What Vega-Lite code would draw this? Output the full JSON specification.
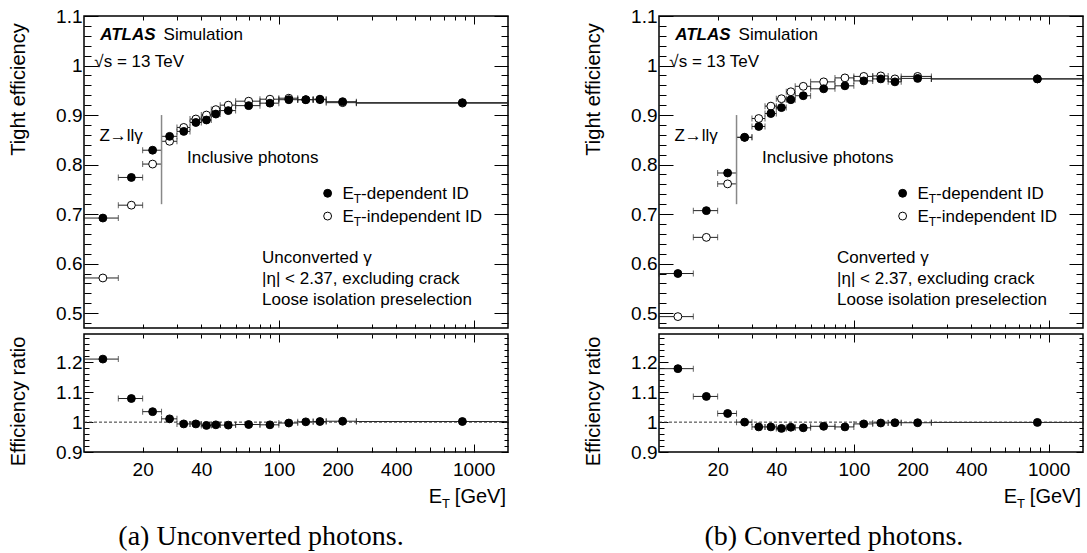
{
  "$schema": "https://vega.github.io/schema/vega-lite/v6.json",
  "padding": {"left": 7, "top": 6, "right": 0, "bottom": 0},
  "background": "white",
  "config": {
    "font": "Liberation Sans",
    "view": {"stroke": "black", "strokeWidth": 1.5},
    "axis": {"grid": false, "domain": false, "labelFont": "Liberation Sans", "labelFontSize": 19, "labelColor": "black", "tickColor": "black", "tickWidth": 1, "titleFont": "Liberation Sans", "titleFontSize": 20, "titleFontWeight": "normal", "titleColor": "black", "labelOverlap": false, "labelFlush": false, "labelBound": false}
  },
  "datasets": {
    "one": [{}],
    "unc": [
      {"x": 12.5, "lo": 10, "hi": 15, "dep": 0.692, "ind": 0.571, "ratio": 1.211},
      {"x": 17.5, "lo": 15, "hi": 20, "dep": 0.774, "ind": 0.718, "ratio": 1.079},
      {"x": 22.5, "lo": 20, "hi": 25, "dep": 0.829, "ind": 0.801, "ratio": 1.035},
      {"x": 27.5, "lo": 25, "hi": 30, "dep": 0.857, "ind": 0.847, "ratio": 1.011},
      {"x": 32.5, "lo": 30, "hi": 35, "dep": 0.867, "ind": 0.875, "ratio": 0.994},
      {"x": 37.5, "lo": 35, "hi": 40, "dep": 0.885, "ind": 0.892, "ratio": 0.994},
      {"x": 42.5, "lo": 40, "hi": 45, "dep": 0.890, "ind": 0.900, "ratio": 0.989},
      {"x": 47.5, "lo": 45, "hi": 50, "dep": 0.902, "ind": 0.911, "ratio": 0.991},
      {"x": 55, "lo": 50, "hi": 60, "dep": 0.909, "ind": 0.920, "ratio": 0.990},
      {"x": 70, "lo": 60, "hi": 80, "dep": 0.919, "ind": 0.928, "ratio": 0.992},
      {"x": 90, "lo": 80, "hi": 100, "dep": 0.924, "ind": 0.932, "ratio": 0.991},
      {"x": 112.5, "lo": 100, "hi": 125, "dep": 0.931, "ind": 0.934, "ratio": 0.997},
      {"x": 137.5, "lo": 125, "hi": 150, "dep": 0.931, "ind": 0.931, "ratio": 1.001},
      {"x": 162.5, "lo": 150, "hi": 175, "dep": 0.932, "ind": 0.931, "ratio": 1.002},
      {"x": 212.5, "lo": 175, "hi": 250, "dep": 0.927, "ind": 0.925, "ratio": 1.003},
      {"x": 875, "lo": 250, "hi": 1500, "dep": 0.925, "ind": 0.924, "ratio": 1.002}
    ],
    "conv": [
      {"x": 12.5, "lo": 10, "hi": 15, "dep": 0.580, "ind": 0.493, "ratio": 1.179},
      {"x": 17.5, "lo": 15, "hi": 20, "dep": 0.707, "ind": 0.653, "ratio": 1.086},
      {"x": 22.5, "lo": 20, "hi": 25, "dep": 0.783, "ind": 0.761, "ratio": 1.029},
      {"x": 27.5, "lo": 25, "hi": 30, "dep": 0.855, "ind": 0.855, "ratio": 1.000},
      {"x": 32.5, "lo": 30, "hi": 35, "dep": 0.877, "ind": 0.893, "ratio": 0.984},
      {"x": 37.5, "lo": 35, "hi": 40, "dep": 0.903, "ind": 0.918, "ratio": 0.984},
      {"x": 42.5, "lo": 40, "hi": 45, "dep": 0.915, "ind": 0.933, "ratio": 0.979},
      {"x": 47.5, "lo": 45, "hi": 50, "dep": 0.931, "ind": 0.947, "ratio": 0.983},
      {"x": 55, "lo": 50, "hi": 60, "dep": 0.939, "ind": 0.958, "ratio": 0.981},
      {"x": 70, "lo": 60, "hi": 80, "dep": 0.953, "ind": 0.967, "ratio": 0.986},
      {"x": 90, "lo": 80, "hi": 100, "dep": 0.959, "ind": 0.975, "ratio": 0.984},
      {"x": 112.5, "lo": 100, "hi": 125, "dep": 0.969, "ind": 0.978, "ratio": 0.994},
      {"x": 137.5, "lo": 125, "hi": 150, "dep": 0.973, "ind": 0.979, "ratio": 0.997},
      {"x": 162.5, "lo": 150, "hi": 175, "dep": 0.967, "ind": 0.973, "ratio": 0.998},
      {"x": 212.5, "lo": 175, "hi": 250, "dep": 0.974, "ind": 0.978, "ratio": 0.998},
      {"x": 875, "lo": 250, "hi": 1500, "dep": 0.973, "ind": 0.973, "ratio": 0.999}
    ]
  },
  "spacing": 72,
  "hconcat": [
    {
      "spacing": 6,
      "bounds": "flush",
      "vconcat": [
        {
          "width": 424, "height": 312,
          "data": {"name": "unc"},
          "resolve": {"axis": {"x": "independent", "y": "independent"}},
          "layer": [
            {"transform": [{"fold": ["ind", "dep"], "as": ["series", "eff"]}],
             "mark": {"type": "rule", "stroke": "#222", "strokeWidth": 1},
             "encoding": {
               "x": {"field": "lo", "type": "quantitative", "scale": {"type": "log", "domain": [10, 1500], "nice": false},
                     "axis": {"orient": "bottom", "title": null, "labels": false, "values": [20,30,40,50,60,70,80,90,100,200,300,400,500,600,700,800,900,1000], "tickSize": {"condition": {"test": "datum.value == 100 || datum.value == 1000", "value": -8}, "value": -4}}},
               "x2": {"field": "hi"},
               "y": {"field": "eff", "type": "quantitative", "scale": {"domain": [0.47, 1.1], "nice": false, "zero": false},
                     "axis": {"orient": "left", "title": "Tight efficiency", "titleX": -65.5, "titleY": 73, "titleAlign": "center", "titleBaseline": "middle", "titleAngle": -90,
                              "values": [0.48,0.5,0.52,0.54,0.56,0.58,0.6,0.62,0.64,0.66,0.68,0.7,0.72,0.74,0.76,0.78,0.8,0.82,0.84,0.86,0.88,0.9,0.92,0.94,0.96,0.98,1,1.02,1.04,1.06,1.08,1.1],
                              "labelExpr": "indexof([0.5,0.6,0.7,0.8,0.9,1,1.1], datum.value) >= 0 ? '' + datum.value : ''",
                              "labelPadding": 16,
                              "tickSize": {"condition": {"test": "indexof([0.5,0.6,0.7,0.8,0.9,1,1.1], datum.value) >= 0", "value": -14}, "value": -7}}}
             }},
            {"transform": [{"fold": ["ind", "dep"], "as": ["series", "eff"]}, {"fold": ["lo", "hi"], "as": ["edge", "ex"]}],
             "mark": {"type": "tick", "orient": "vertical", "size": 6, "thickness": 1, "color": "#222"},
             "encoding": {
               "x": {"field": "ex", "type": "quantitative", "scale": {"type": "log"},
                     "axis": {"orient": "top", "title": null, "labels": false, "values": [20,30,40,50,60,70,80,90,100,200,300,400,500,600,700,800,900,1000], "tickSize": {"condition": {"test": "datum.value == 100 || datum.value == 1000", "value": -8}, "value": -4}}},
               "y": {"field": "eff", "type": "quantitative",
                     "axis": {"orient": "right", "title": null, "labels": false,
                              "values": [0.48,0.5,0.52,0.54,0.56,0.58,0.6,0.62,0.64,0.66,0.68,0.7,0.72,0.74,0.76,0.78,0.8,0.82,0.84,0.86,0.88,0.9,0.92,0.94,0.96,0.98,1,1.02,1.04,1.06,1.08,1.1],
                              "tickSize": {"condition": {"test": "indexof([0.5,0.6,0.7,0.8,0.9,1,1.1], datum.value) >= 0", "value": -14}, "value": -7}}}
             }},
            {"transform": [{"fold": ["ind", "dep"], "as": ["series", "eff"]}],
             "mark": {"type": "point", "shape": "circle", "filled": true, "size": 62, "stroke": "black", "strokeWidth": 1, "opacity": 1},
             "encoding": {
               "x": {"field": "x", "type": "quantitative", "scale": {"type": "log"}, "axis": null},
               "y": {"field": "eff", "type": "quantitative", "axis": null},
               "fill": {"condition": {"test": "datum.series == 'dep'", "value": "black"}, "value": "white"}
             }},
            {"data": {"name": "one"}, "mark": {"type": "rule", "stroke": "#888", "strokeWidth": 1.5},
             "encoding": {"x": {"datum": 25, "type": "quantitative", "scale": {"type": "log"}, "axis": null}, "y": {"datum": 0.72, "type": "quantitative", "axis": null}, "y2": {"datum": 0.9}}},
            {"data": {"name": "one"}, "mark": {"type": "text", "text": "ATLAS", "align": "left", "baseline": "alphabetic", "fontSize": 17, "fontStyle": "italic", "fontWeight": "bold"},
             "encoding": {"x": {"datum": 12.1, "type": "quantitative", "scale": {"type": "log"}, "axis": null}, "y": {"datum": 1.051, "type": "quantitative", "axis": null}}},
            {"data": {"name": "one"}, "mark": {"type": "text", "text": "Simulation", "align": "left", "baseline": "alphabetic", "fontSize": 17},
             "encoding": {"x": {"datum": 25.6, "type": "quantitative", "scale": {"type": "log"}, "axis": null}, "y": {"datum": 1.051, "type": "quantitative", "axis": null}}},
            {"data": {"name": "one"}, "mark": {"type": "text", "text": "√s = 13 TeV", "align": "left", "baseline": "alphabetic", "fontSize": 17},
             "encoding": {"x": {"datum": 11.3, "type": "quantitative", "scale": {"type": "log"}, "axis": null}, "y": {"datum": 0.997, "type": "quantitative", "axis": null}}},
            {"data": {"name": "one"}, "mark": {"type": "text", "text": "Z→llγ", "align": "left", "baseline": "alphabetic", "fontSize": 17},
             "encoding": {"x": {"datum": 12.0, "type": "quantitative", "scale": {"type": "log"}, "axis": null}, "y": {"datum": 0.848, "type": "quantitative", "axis": null}}},
            {"data": {"name": "one"}, "mark": {"type": "text", "text": "Inclusive photons", "align": "left", "baseline": "alphabetic", "fontSize": 17},
             "encoding": {"x": {"datum": 33.8, "type": "quantitative", "scale": {"type": "log"}, "axis": null}, "y": {"datum": 0.803, "type": "quantitative", "axis": null}}},
            {"data": {"name": "one"}, "mark": {"type": "point", "shape": "circle", "filled": true, "size": 62, "fill": "black", "stroke": "black", "strokeWidth": 1, "opacity": 1},
             "encoding": {"x": {"datum": 178, "type": "quantitative", "scale": {"type": "log"}, "axis": null}, "y": {"datum": 0.742, "type": "quantitative", "axis": null}}},
            {"data": {"name": "one"}, "mark": {"type": "point", "shape": "circle", "filled": true, "size": 62, "fill": "white", "stroke": "black", "strokeWidth": 1, "opacity": 1},
             "encoding": {"x": {"datum": 178, "type": "quantitative", "scale": {"type": "log"}, "axis": null}, "y": {"datum": 0.696, "type": "quantitative", "axis": null}}},
            {"data": {"name": "one"}, "mark": {"type": "text", "text": "E", "align": "left", "baseline": "alphabetic", "fontSize": 17},
             "encoding": {"x": {"datum": 212, "type": "quantitative", "scale": {"type": "log"}, "axis": null}, "y": {"datum": 0.730, "type": "quantitative", "axis": null}}},
            {"data": {"name": "one"}, "mark": {"type": "text", "text": "T", "align": "left", "baseline": "alphabetic", "fontSize": 12, "dx": 11.3, "dy": 4},
             "encoding": {"x": {"datum": 212, "type": "quantitative", "scale": {"type": "log"}, "axis": null}, "y": {"datum": 0.730, "type": "quantitative", "axis": null}}},
            {"data": {"name": "one"}, "mark": {"type": "text", "text": "-dependent ID", "align": "left", "baseline": "alphabetic", "fontSize": 17, "dx": 18.6},
             "encoding": {"x": {"datum": 212, "type": "quantitative", "scale": {"type": "log"}, "axis": null}, "y": {"datum": 0.730, "type": "quantitative", "axis": null}}},
            {"data": {"name": "one"}, "mark": {"type": "text", "text": "E", "align": "left", "baseline": "alphabetic", "fontSize": 17},
             "encoding": {"x": {"datum": 212, "type": "quantitative", "scale": {"type": "log"}, "axis": null}, "y": {"datum": 0.684, "type": "quantitative", "axis": null}}},
            {"data": {"name": "one"}, "mark": {"type": "text", "text": "T", "align": "left", "baseline": "alphabetic", "fontSize": 12, "dx": 11.3, "dy": 4},
             "encoding": {"x": {"datum": 212, "type": "quantitative", "scale": {"type": "log"}, "axis": null}, "y": {"datum": 0.684, "type": "quantitative", "axis": null}}},
            {"data": {"name": "one"}, "mark": {"type": "text", "text": "-independent ID", "align": "left", "baseline": "alphabetic", "fontSize": 17, "dx": 18.6},
             "encoding": {"x": {"datum": 212, "type": "quantitative", "scale": {"type": "log"}, "axis": null}, "y": {"datum": 0.684, "type": "quantitative", "axis": null}}},
            {"data": {"name": "one"}, "mark": {"type": "text", "text": "Unconverted γ", "align": "left", "baseline": "alphabetic", "fontSize": 17},
             "encoding": {"x": {"datum": 82, "type": "quantitative", "scale": {"type": "log"}, "axis": null}, "y": {"datum": 0.602, "type": "quantitative", "axis": null}}},
            {"data": {"name": "one"}, "mark": {"type": "text", "text": "|η| < 2.37, excluding crack", "align": "left", "baseline": "alphabetic", "fontSize": 17},
             "encoding": {"x": {"datum": 82, "type": "quantitative", "scale": {"type": "log"}, "axis": null}, "y": {"datum": 0.558, "type": "quantitative", "axis": null}}},
            {"data": {"name": "one"}, "mark": {"type": "text", "text": "Loose isolation preselection", "align": "left", "baseline": "alphabetic", "fontSize": 17},
             "encoding": {"x": {"datum": 82, "type": "quantitative", "scale": {"type": "log"}, "axis": null}, "y": {"datum": 0.516, "type": "quantitative", "axis": null}}}
          ]
        },
        {
          "width": 424, "height": 118,
          "data": {"name": "unc"},
          "resolve": {"axis": {"x": "independent", "y": "independent"}},
          "layer": [
            {"mark": {"type": "rule", "stroke": "#222", "strokeWidth": 1},
             "encoding": {
               "x": {"field": "lo", "type": "quantitative", "scale": {"type": "log", "domain": [10, 1500], "nice": false},
                     "axis": {"orient": "bottom", "title": null, "values": [20,30,40,50,60,70,80,90,100,200,300,400,500,600,700,800,900,1000],
                              "labelExpr": "indexof([20,40,100,200,400,1000], datum.value) >= 0 ? '' + datum.value : ''",
                              "tickSize": {"condition": {"test": "datum.value == 100 || datum.value == 1000", "value": -8}, "value": -5},
                              "labelPadding": {"condition": {"test": "datum.value == 100 || datum.value == 1000", "value": 16}, "value": 13}}},
               "x2": {"field": "hi"},
               "y": {"field": "ratio", "type": "quantitative", "scale": {"domain": [0.9, 1.295], "nice": false, "zero": false},
                     "axis": {"orient": "left", "title": "Efficiency ratio", "titleX": -65.5, "titleY": 67, "titleAlign": "center", "titleBaseline": "middle", "titleAngle": -90,
                              "values": [0.9,0.92,0.94,0.96,0.98,1,1.02,1.04,1.06,1.08,1.1,1.12,1.14,1.16,1.18,1.2,1.22,1.24,1.26,1.28],
                              "labelExpr": "indexof([0.9,1,1.1,1.2], datum.value) >= 0 ? '' + datum.value : ''",
                              "labelPadding": 11,
                              "tickSize": {"condition": {"test": "indexof([0.9,1,1.1,1.2], datum.value) >= 0", "value": -9}, "value": -5}}}
             }},
            {"transform": [{"fold": ["lo", "hi"], "as": ["edge", "ex"]}],
             "mark": {"type": "tick", "orient": "vertical", "size": 6, "thickness": 1, "color": "#222"},
             "encoding": {
               "x": {"field": "ex", "type": "quantitative", "scale": {"type": "log"},
                     "axis": {"orient": "top", "title": null, "labels": false, "values": [20,30,40,50,60,70,80,90,100,200,300,400,500,600,700,800,900,1000], "tickSize": {"condition": {"test": "datum.value == 100 || datum.value == 1000", "value": -8}, "value": -4}}},
               "y": {"field": "ratio", "type": "quantitative",
                     "axis": {"orient": "right", "title": null, "labels": false,
                              "values": [0.9,0.92,0.94,0.96,0.98,1,1.02,1.04,1.06,1.08,1.1,1.12,1.14,1.16,1.18,1.2,1.22,1.24,1.26,1.28],
                              "tickSize": {"condition": {"test": "indexof([0.9,1,1.1,1.2], datum.value) >= 0", "value": -7}, "value": -4}}}
             }},
            {"data": {"name": "one"}, "mark": {"type": "rule", "stroke": "#333", "strokeWidth": 1, "strokeDash": [3, 2]},
             "encoding": {"x": {"datum": 10, "type": "quantitative", "scale": {"type": "log"}, "axis": null}, "x2": {"datum": 1500}, "y": {"datum": 1, "type": "quantitative", "axis": null}}},
            {"mark": {"type": "point", "shape": "circle", "filled": true, "size": 62, "fill": "black", "stroke": "black", "strokeWidth": 1, "opacity": 1},
             "encoding": {
               "x": {"field": "x", "type": "quantitative", "scale": {"type": "log"}, "axis": null},
               "y": {"field": "ratio", "type": "quantitative", "axis": null}
             }},
            {"data": {"name": "one"}, "mark": {"type": "text", "text": "E", "align": "right", "baseline": "alphabetic", "fontSize": 20, "dx": -66, "dy": 51},
             "encoding": {"x": {"datum": 1500, "type": "quantitative", "scale": {"type": "log"}, "axis": null}, "y": {"datum": 0.9, "type": "quantitative", "axis": null}}},
            {"data": {"name": "one"}, "mark": {"type": "text", "text": "T", "align": "right", "baseline": "alphabetic", "fontSize": 13, "dx": -58, "dy": 56},
             "encoding": {"x": {"datum": 1500, "type": "quantitative", "scale": {"type": "log"}, "axis": null}, "y": {"datum": 0.9, "type": "quantitative", "axis": null}}},
            {"data": {"name": "one"}, "mark": {"type": "text", "text": "[GeV]", "align": "right", "baseline": "alphabetic", "fontSize": 20, "dx": -2, "dy": 51},
             "encoding": {"x": {"datum": 1500, "type": "quantitative", "scale": {"type": "log"}, "axis": null}, "y": {"datum": 0.9, "type": "quantitative", "axis": null}}},
            {"data": {"name": "one"}, "mark": {"type": "text", "text": "(a) Unconverted photons.", "align": "center", "baseline": "alphabetic", "fontSize": 28, "font": "Liberation Serif", "dy": 93},
             "encoding": {"x": {"datum": 81, "type": "quantitative", "scale": {"type": "log"}, "axis": null}, "y": {"datum": 0.9, "type": "quantitative", "axis": null}}}
          ]
        }
      ]
    },
    {
      "spacing": 6,
      "bounds": "flush",
      "vconcat": [
        {
          "width": 424, "height": 312,
          "data": {"name": "conv"},
          "resolve": {"axis": {"x": "independent", "y": "independent"}},
          "layer": [
            {"transform": [{"fold": ["ind", "dep"], "as": ["series", "eff"]}],
             "mark": {"type": "rule", "stroke": "#222", "strokeWidth": 1},
             "encoding": {
               "x": {"field": "lo", "type": "quantitative", "scale": {"type": "log", "domain": [10, 1500], "nice": false},
                     "axis": {"orient": "bottom", "title": null, "labels": false, "values": [20,30,40,50,60,70,80,90,100,200,300,400,500,600,700,800,900,1000], "tickSize": {"condition": {"test": "datum.value == 100 || datum.value == 1000", "value": -8}, "value": -4}}},
               "x2": {"field": "hi"},
               "y": {"field": "eff", "type": "quantitative", "scale": {"domain": [0.47, 1.1], "nice": false, "zero": false},
                     "axis": {"orient": "left", "title": "Tight efficiency", "titleX": -65.5, "titleY": 73, "titleAlign": "center", "titleBaseline": "middle", "titleAngle": -90,
                              "values": [0.48,0.5,0.52,0.54,0.56,0.58,0.6,0.62,0.64,0.66,0.68,0.7,0.72,0.74,0.76,0.78,0.8,0.82,0.84,0.86,0.88,0.9,0.92,0.94,0.96,0.98,1,1.02,1.04,1.06,1.08,1.1],
                              "labelExpr": "indexof([0.5,0.6,0.7,0.8,0.9,1,1.1], datum.value) >= 0 ? '' + datum.value : ''",
                              "labelPadding": 16,
                              "tickSize": {"condition": {"test": "indexof([0.5,0.6,0.7,0.8,0.9,1,1.1], datum.value) >= 0", "value": -14}, "value": -7}}}
             }},
            {"transform": [{"fold": ["ind", "dep"], "as": ["series", "eff"]}, {"fold": ["lo", "hi"], "as": ["edge", "ex"]}],
             "mark": {"type": "tick", "orient": "vertical", "size": 6, "thickness": 1, "color": "#222"},
             "encoding": {
               "x": {"field": "ex", "type": "quantitative", "scale": {"type": "log"},
                     "axis": {"orient": "top", "title": null, "labels": false, "values": [20,30,40,50,60,70,80,90,100,200,300,400,500,600,700,800,900,1000], "tickSize": {"condition": {"test": "datum.value == 100 || datum.value == 1000", "value": -8}, "value": -4}}},
               "y": {"field": "eff", "type": "quantitative",
                     "axis": {"orient": "right", "title": null, "labels": false,
                              "values": [0.48,0.5,0.52,0.54,0.56,0.58,0.6,0.62,0.64,0.66,0.68,0.7,0.72,0.74,0.76,0.78,0.8,0.82,0.84,0.86,0.88,0.9,0.92,0.94,0.96,0.98,1,1.02,1.04,1.06,1.08,1.1],
                              "tickSize": {"condition": {"test": "indexof([0.5,0.6,0.7,0.8,0.9,1,1.1], datum.value) >= 0", "value": -14}, "value": -7}}}
             }},
            {"transform": [{"fold": ["ind", "dep"], "as": ["series", "eff"]}],
             "mark": {"type": "point", "shape": "circle", "filled": true, "size": 62, "stroke": "black", "strokeWidth": 1, "opacity": 1},
             "encoding": {
               "x": {"field": "x", "type": "quantitative", "scale": {"type": "log"}, "axis": null},
               "y": {"field": "eff", "type": "quantitative", "axis": null},
               "fill": {"condition": {"test": "datum.series == 'dep'", "value": "black"}, "value": "white"}
             }},
            {"data": {"name": "one"}, "mark": {"type": "rule", "stroke": "#888", "strokeWidth": 1.5},
             "encoding": {"x": {"datum": 25, "type": "quantitative", "scale": {"type": "log"}, "axis": null}, "y": {"datum": 0.72, "type": "quantitative", "axis": null}, "y2": {"datum": 0.9}}},
            {"data": {"name": "one"}, "mark": {"type": "text", "text": "ATLAS", "align": "left", "baseline": "alphabetic", "fontSize": 17, "fontStyle": "italic", "fontWeight": "bold"},
             "encoding": {"x": {"datum": 12.1, "type": "quantitative", "scale": {"type": "log"}, "axis": null}, "y": {"datum": 1.051, "type": "quantitative", "axis": null}}},
            {"data": {"name": "one"}, "mark": {"type": "text", "text": "Simulation", "align": "left", "baseline": "alphabetic", "fontSize": 17},
             "encoding": {"x": {"datum": 25.6, "type": "quantitative", "scale": {"type": "log"}, "axis": null}, "y": {"datum": 1.051, "type": "quantitative", "axis": null}}},
            {"data": {"name": "one"}, "mark": {"type": "text", "text": "√s = 13 TeV", "align": "left", "baseline": "alphabetic", "fontSize": 17},
             "encoding": {"x": {"datum": 11.3, "type": "quantitative", "scale": {"type": "log"}, "axis": null}, "y": {"datum": 0.997, "type": "quantitative", "axis": null}}},
            {"data": {"name": "one"}, "mark": {"type": "text", "text": "Z→llγ", "align": "left", "baseline": "alphabetic", "fontSize": 17},
             "encoding": {"x": {"datum": 12.0, "type": "quantitative", "scale": {"type": "log"}, "axis": null}, "y": {"datum": 0.848, "type": "quantitative", "axis": null}}},
            {"data": {"name": "one"}, "mark": {"type": "text", "text": "Inclusive photons", "align": "left", "baseline": "alphabetic", "fontSize": 17},
             "encoding": {"x": {"datum": 33.8, "type": "quantitative", "scale": {"type": "log"}, "axis": null}, "y": {"datum": 0.803, "type": "quantitative", "axis": null}}},
            {"data": {"name": "one"}, "mark": {"type": "point", "shape": "circle", "filled": true, "size": 62, "fill": "black", "stroke": "black", "strokeWidth": 1, "opacity": 1},
             "encoding": {"x": {"datum": 178, "type": "quantitative", "scale": {"type": "log"}, "axis": null}, "y": {"datum": 0.742, "type": "quantitative", "axis": null}}},
            {"data": {"name": "one"}, "mark": {"type": "point", "shape": "circle", "filled": true, "size": 62, "fill": "white", "stroke": "black", "strokeWidth": 1, "opacity": 1},
             "encoding": {"x": {"datum": 178, "type": "quantitative", "scale": {"type": "log"}, "axis": null}, "y": {"datum": 0.696, "type": "quantitative", "axis": null}}},
            {"data": {"name": "one"}, "mark": {"type": "text", "text": "E", "align": "left", "baseline": "alphabetic", "fontSize": 17},
             "encoding": {"x": {"datum": 212, "type": "quantitative", "scale": {"type": "log"}, "axis": null}, "y": {"datum": 0.730, "type": "quantitative", "axis": null}}},
            {"data": {"name": "one"}, "mark": {"type": "text", "text": "T", "align": "left", "baseline": "alphabetic", "fontSize": 12, "dx": 11.3, "dy": 4},
             "encoding": {"x": {"datum": 212, "type": "quantitative", "scale": {"type": "log"}, "axis": null}, "y": {"datum": 0.730, "type": "quantitative", "axis": null}}},
            {"data": {"name": "one"}, "mark": {"type": "text", "text": "-dependent ID", "align": "left", "baseline": "alphabetic", "fontSize": 17, "dx": 18.6},
             "encoding": {"x": {"datum": 212, "type": "quantitative", "scale": {"type": "log"}, "axis": null}, "y": {"datum": 0.730, "type": "quantitative", "axis": null}}},
            {"data": {"name": "one"}, "mark": {"type": "text", "text": "E", "align": "left", "baseline": "alphabetic", "fontSize": 17},
             "encoding": {"x": {"datum": 212, "type": "quantitative", "scale": {"type": "log"}, "axis": null}, "y": {"datum": 0.684, "type": "quantitative", "axis": null}}},
            {"data": {"name": "one"}, "mark": {"type": "text", "text": "T", "align": "left", "baseline": "alphabetic", "fontSize": 12, "dx": 11.3, "dy": 4},
             "encoding": {"x": {"datum": 212, "type": "quantitative", "scale": {"type": "log"}, "axis": null}, "y": {"datum": 0.684, "type": "quantitative", "axis": null}}},
            {"data": {"name": "one"}, "mark": {"type": "text", "text": "-independent ID", "align": "left", "baseline": "alphabetic", "fontSize": 17, "dx": 18.6},
             "encoding": {"x": {"datum": 212, "type": "quantitative", "scale": {"type": "log"}, "axis": null}, "y": {"datum": 0.684, "type": "quantitative", "axis": null}}},
            {"data": {"name": "one"}, "mark": {"type": "text", "text": "Converted γ", "align": "left", "baseline": "alphabetic", "fontSize": 17},
             "encoding": {"x": {"datum": 82, "type": "quantitative", "scale": {"type": "log"}, "axis": null}, "y": {"datum": 0.602, "type": "quantitative", "axis": null}}},
            {"data": {"name": "one"}, "mark": {"type": "text", "text": "|η| < 2.37, excluding crack", "align": "left", "baseline": "alphabetic", "fontSize": 17},
             "encoding": {"x": {"datum": 82, "type": "quantitative", "scale": {"type": "log"}, "axis": null}, "y": {"datum": 0.558, "type": "quantitative", "axis": null}}},
            {"data": {"name": "one"}, "mark": {"type": "text", "text": "Loose isolation preselection", "align": "left", "baseline": "alphabetic", "fontSize": 17},
             "encoding": {"x": {"datum": 82, "type": "quantitative", "scale": {"type": "log"}, "axis": null}, "y": {"datum": 0.516, "type": "quantitative", "axis": null}}}
          ]
        },
        {
          "width": 424, "height": 118,
          "data": {"name": "conv"},
          "resolve": {"axis": {"x": "independent", "y": "independent"}},
          "layer": [
            {"mark": {"type": "rule", "stroke": "#222", "strokeWidth": 1},
             "encoding": {
               "x": {"field": "lo", "type": "quantitative", "scale": {"type": "log", "domain": [10, 1500], "nice": false},
                     "axis": {"orient": "bottom", "title": null, "values": [20,30,40,50,60,70,80,90,100,200,300,400,500,600,700,800,900,1000],
                              "labelExpr": "indexof([20,40,100,200,400,1000], datum.value) >= 0 ? '' + datum.value : ''",
                              "tickSize": {"condition": {"test": "datum.value == 100 || datum.value == 1000", "value": -8}, "value": -5},
                              "labelPadding": {"condition": {"test": "datum.value == 100 || datum.value == 1000", "value": 16}, "value": 13}}},
               "x2": {"field": "hi"},
               "y": {"field": "ratio", "type": "quantitative", "scale": {"domain": [0.9, 1.295], "nice": false, "zero": false},
                     "axis": {"orient": "left", "title": "Efficiency ratio", "titleX": -65.5, "titleY": 67, "titleAlign": "center", "titleBaseline": "middle", "titleAngle": -90,
                              "values": [0.9,0.92,0.94,0.96,0.98,1,1.02,1.04,1.06,1.08,1.1,1.12,1.14,1.16,1.18,1.2,1.22,1.24,1.26,1.28],
                              "labelExpr": "indexof([0.9,1,1.1,1.2], datum.value) >= 0 ? '' + datum.value : ''",
                              "labelPadding": 11,
                              "tickSize": {"condition": {"test": "indexof([0.9,1,1.1,1.2], datum.value) >= 0", "value": -9}, "value": -5}}}
             }},
            {"transform": [{"fold": ["lo", "hi"], "as": ["edge", "ex"]}],
             "mark": {"type": "tick", "orient": "vertical", "size": 6, "thickness": 1, "color": "#222"},
             "encoding": {
               "x": {"field": "ex", "type": "quantitative", "scale": {"type": "log"},
                     "axis": {"orient": "top", "title": null, "labels": false, "values": [20,30,40,50,60,70,80,90,100,200,300,400,500,600,700,800,900,1000], "tickSize": {"condition": {"test": "datum.value == 100 || datum.value == 1000", "value": -8}, "value": -4}}},
               "y": {"field": "ratio", "type": "quantitative",
                     "axis": {"orient": "right", "title": null, "labels": false,
                              "values": [0.9,0.92,0.94,0.96,0.98,1,1.02,1.04,1.06,1.08,1.1,1.12,1.14,1.16,1.18,1.2,1.22,1.24,1.26,1.28],
                              "tickSize": {"condition": {"test": "indexof([0.9,1,1.1,1.2], datum.value) >= 0", "value": -7}, "value": -4}}}
             }},
            {"data": {"name": "one"}, "mark": {"type": "rule", "stroke": "#333", "strokeWidth": 1, "strokeDash": [3, 2]},
             "encoding": {"x": {"datum": 10, "type": "quantitative", "scale": {"type": "log"}, "axis": null}, "x2": {"datum": 1500}, "y": {"datum": 1, "type": "quantitative", "axis": null}}},
            {"mark": {"type": "point", "shape": "circle", "filled": true, "size": 62, "fill": "black", "stroke": "black", "strokeWidth": 1, "opacity": 1},
             "encoding": {
               "x": {"field": "x", "type": "quantitative", "scale": {"type": "log"}, "axis": null},
               "y": {"field": "ratio", "type": "quantitative", "axis": null}
             }},
            {"data": {"name": "one"}, "mark": {"type": "text", "text": "E", "align": "right", "baseline": "alphabetic", "fontSize": 20, "dx": -66, "dy": 51},
             "encoding": {"x": {"datum": 1500, "type": "quantitative", "scale": {"type": "log"}, "axis": null}, "y": {"datum": 0.9, "type": "quantitative", "axis": null}}},
            {"data": {"name": "one"}, "mark": {"type": "text", "text": "T", "align": "right", "baseline": "alphabetic", "fontSize": 13, "dx": -58, "dy": 56},
             "encoding": {"x": {"datum": 1500, "type": "quantitative", "scale": {"type": "log"}, "axis": null}, "y": {"datum": 0.9, "type": "quantitative", "axis": null}}},
            {"data": {"name": "one"}, "mark": {"type": "text", "text": "[GeV]", "align": "right", "baseline": "alphabetic", "fontSize": 20, "dx": -2, "dy": 51},
             "encoding": {"x": {"datum": 1500, "type": "quantitative", "scale": {"type": "log"}, "axis": null}, "y": {"datum": 0.9, "type": "quantitative", "axis": null}}},
            {"data": {"name": "one"}, "mark": {"type": "text", "text": "(b) Converted photons.", "align": "center", "baseline": "alphabetic", "fontSize": 28, "font": "Liberation Serif", "dy": 93},
             "encoding": {"x": {"datum": 79, "type": "quantitative", "scale": {"type": "log"}, "axis": null}, "y": {"datum": 0.9, "type": "quantitative", "axis": null}}}
          ]
        }
      ]
    }
  ]
}
